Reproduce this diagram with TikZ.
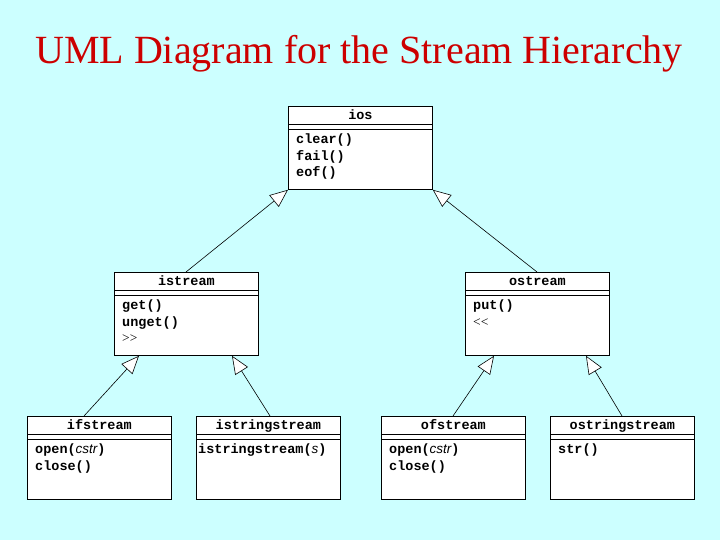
\documentclass[tikz,border=0pt]{standalone}
\usepackage{fontspec}
\setmainfont{Liberation Serif}
\setsansfont{Liberation Sans}
\setmonofont{Liberation Mono}
\usetikzlibrary{arrows.meta}
\definecolor{bg}{HTML}{CCFFFF}
\definecolor{ttl}{HTML}{CC0000}
\tikzset{
  cls/.style={draw=black,fill=white,line width=0.8pt,minimum width=144pt,minimum height=83pt,anchor=north west,inner sep=0pt},
  hd/.style={font=\ttfamily\bfseries\fontsize{13.5}{16}\selectfont,anchor=base,inner sep=0pt},
  bd/.style={font=\ttfamily\bfseries\fontsize{13.5}{16.5}\selectfont,anchor=north west,inner sep=0pt,align=left},
  inh/.style={line width=0.6pt,-{Triangle[open,length=18pt,width=15pt,fill=white]}}
}
\newcommand{\umlcls}[5]{%
  \node[cls] (#1) at (#2,#3) {};
  \node[hd] (#1h) at ([yshift=-13.5pt]#1.north) {#4};
  \draw[line width=0.7pt] ([yshift=-18pt]#1.north west) -- ([yshift=-18pt]#1.north east)
                          ([yshift=-23pt]#1.north west) -- ([yshift=-23pt]#1.north east);
  \node[bd] (#1b) at ([xshift=8pt,yshift=-28pt]#1.north west) {#5};
}
\newcommand{\argit}[1]{{\sffamily\mdseries\itshape #1}}
\begin{document}
\begin{tikzpicture}[x=1pt,y=-1pt]
\fill[bg] (0,0) rectangle (720,540);
\useasboundingbox (0,0) rectangle (720,540);
\node[text=ttl,font=\fontsize{40}{42}\selectfont,inner sep=0pt] (title) at (359,54) {UML Diagram for the Stream Hierarchy};
\umlcls{ios}{288}{106}{ios}{clear()\\fail()\\eof()}
\umlcls{istream}{114}{272}{istream}{get()\\unget()\\{\rmfamily\mdseries >{}>}}
\umlcls{ostream}{465}{272}{ostream}{put()\\{\rmfamily\mdseries <{}<}}
\umlcls{ifs}{27}{416}{ifstream}{open(\argit{cstr})\\close()}
\umlcls{iss}{196}{416}{istringstream}{\hspace{-6pt}istringstream(\argit{s})}
\umlcls{ofs}{381}{416}{ofstream}{open(\argit{cstr})\\close()}
\umlcls{oss}{550}{416}{ostringstream}{str()}
\draw[inh] ([xshift=72pt]istream.north west) -- (ios.south west);
\draw[inh] ([xshift=72pt]ostream.north west) -- (ios.south east);
\draw[inh] ([xshift=57pt]ifs.north west) -- ([xshift=25pt]istream.south west);
\draw[inh] ([xshift=74pt]iss.north west) -- ([xshift=118pt]istream.south west);
\draw[inh] ([xshift=72pt]ofs.north west) -- ([xshift=29pt]ostream.south west);
\draw[inh] ([xshift=72pt]oss.north west) -- ([xshift=121pt]ostream.south west);
\end{tikzpicture}
\end{document}
